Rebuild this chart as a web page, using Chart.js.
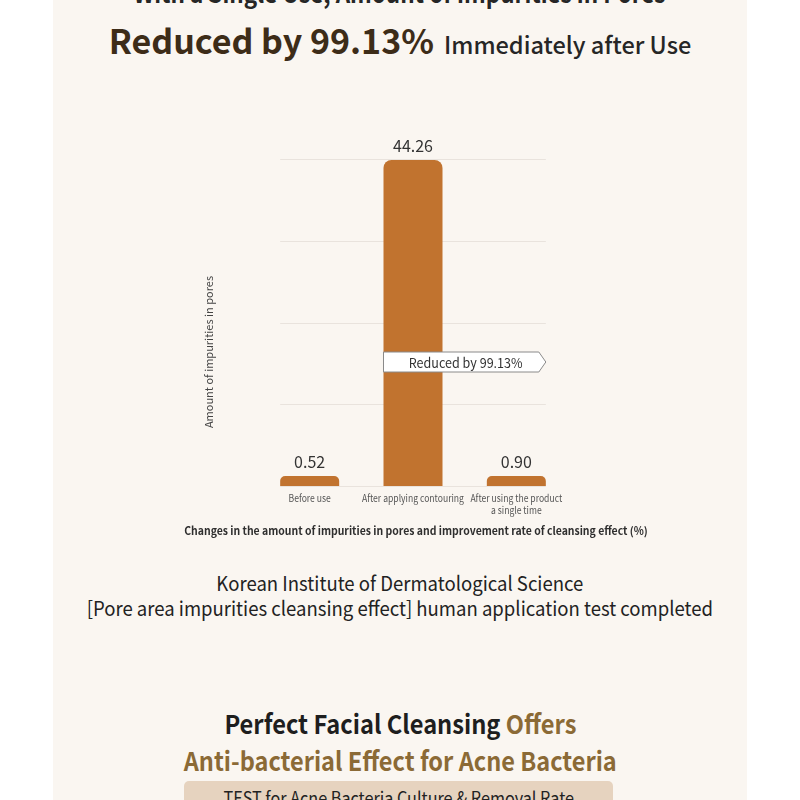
<!DOCTYPE html>
<html>
<head>
<meta charset="utf-8">
<script src="https://cdn.jsdelivr.net/npm/chart.js@4"></script>
<style>
  html, body { margin: 0; padding: 0; background: #ffffff; }
  body { width: 800px; height: 800px; position: relative; overflow: hidden; font-family: "Noto Sans CJK KR", "Noto Sans", sans-serif; }
  .panel { position: absolute; left: 53px; top: 0; width: 694px; height: 800px; background: #faf6f1; }
  .line { position: absolute; left: 0; width: 800px; text-align: center; white-space: nowrap; }
  .line > span.sq { display: inline-block; transform-origin: 50% 50%; }
  #chartBox { position: absolute; left: 150px; top: 120px; width: 520px; height: 430px; }
</style>
</head>
<body>
<div class="panel"></div>

<div class="line" style="top:-23px; font-size:25px; line-height:30px; font-weight:700; color:#262626;"><span class="sq" style="transform:scaleX(0.9);">With a Single Use, Amount of Impurities in Pores</span></div>
<div class="line" style="top:17px; line-height:46px; color:#3d2c18;"><span style="font-size:34px; font-weight:700;">Reduced by 99.13%</span><span style="font-size:23.5px; font-weight:500; color:#262626; margin-left:10px;">Immediately after Use</span></div>

<div id="chartBox"><canvas id="summaryChart" width="520" height="430"></canvas></div>

<div class="line" style="top:570px; font-size:20px; line-height:25px; color:#222;"><span class="sq" style="transform:scaleX(0.927);">Korean Institute of Dermatological Science<br>[Pore area impurities cleansing effect] human application test completed</span></div>

<div class="line" style="top:706px; font-size:26px; line-height:34px; font-weight:700; color:#1e1e1e;"><span class="sq" style="transform:scaleX(0.91);">Perfect Facial Cleansing <span style="color:#8b6a36;">Offers</span></span></div>
<div class="line" style="top:743px; font-size:26px; line-height:34px; font-weight:700; color:#8b6a36;"><span class="sq" style="transform:scaleX(0.905);">Anti-bacterial Effect for Acne Bacteria</span></div>
<div style="position:absolute; left:184px; top:781px; width:429px; height:40px; background:#e6d3bf; border-radius:5px; text-align:center; font-size:18px; line-height:32px; color:#222; white-space:nowrap;"><span style="display:inline-block; transform:scaleX(0.9);">TEST for Acne Bacteria Culture &amp; Removal Rate</span></div>

<script>
// chart data
const categories = ['Before use', 'After applying contouring', ['After using the product', 'a single time']];
const impurityValues = [0.52, 44.26, 0.90];
const valueLabels = ['0.52', '44.26', '0.90'];
const reductionText = 'Reduced by 99.13%';
const yAxisTitle = 'Amount of impurities in pores';
const xAxisTitle = 'Changes in the amount of impurities in pores and improvement rate of cleansing effect (%)';

const barColor = '#c1732f';
const gridColor = '#e9e3dd';
const fontFamily = '"Noto Sans CJK KR", "Noto Sans", sans-serif';

// draw text squeezed horizontally like the reference lettering
function squeezedText(ctx, text, x, y, sx) {
    ctx.save();
    ctx.translate(x, y);
    ctx.scale(sx, 1);
    ctx.fillText(text, 0, 0);
    ctx.restore();
}

const decorPlugin = {
    id: 'decor',
    beforeDatasetsDraw(chart) {
        const ctx = chart.ctx;
        const bars = chart.getDatasetMeta(0).data;
        const x1 = bars[0].x - bars[0].width / 2;
        const x2 = bars[bars.length - 1].x + bars[bars.length - 1].width / 2;
        ctx.save();
        ctx.strokeStyle = gridColor;
        ctx.lineWidth = 1;
        chart.scales.y.ticks.forEach(t => {
            const y = Math.round(chart.scales.y.getPixelForValue(t.value)) + 0.5;
            ctx.beginPath();
            ctx.moveTo(x1, y);
            ctx.lineTo(x2, y);
            ctx.stroke();
        });
        ctx.restore();
    },
    afterDatasetsDraw(chart) {
        const ctx = chart.ctx;
        const bars = chart.getDatasetMeta(0).data;
        const area = chart.chartArea;
        const xScale = chart.scales.x;
        ctx.save();
        ctx.textAlign = 'center';
        ctx.textBaseline = 'middle';

        // value labels
        ctx.fillStyle = '#333';
        ctx.font = '16px ' + fontFamily;
        bars.forEach((bar, i) => {
            ctx.fillText(valueLabels[i], bar.x, bar.y - 14);
        });

        // category labels
        ctx.fillStyle = '#555';
        ctx.font = '10px ' + fontFamily;
        categories.forEach((lab, i) => {
            const lines = Array.isArray(lab) ? lab : [lab];
            lines.forEach((ln, j) => {
                squeezedText(ctx, ln, xScale.getPixelForTick(i), area.bottom + 12 + j * 12, 0.86);
            });
        });

        // x axis title
        ctx.fillStyle = '#2e2e2e';
        ctx.font = 'bold 11px ' + fontFamily;
        squeezedText(ctx, xAxisTitle, (area.left + area.right) / 2 + 3, area.bottom + 45, 0.95);

        // arrow-shaped note over the middle bar
        const left = bars[1].x - bars[1].width / 2;
        const tip = bars[2].x + bars[2].width / 2;
        const cy = area.bottom - 124;
        const h = 20;
        ctx.beginPath();
        ctx.moveTo(left, cy - h / 2);
        ctx.lineTo(tip - 7, cy - h / 2);
        ctx.lineTo(tip, cy);
        ctx.lineTo(tip - 7, cy + h / 2);
        ctx.lineTo(left, cy + h / 2);
        ctx.closePath();
        ctx.fillStyle = '#ffffff';
        ctx.fill();
        ctx.strokeStyle = '#8a8a8a';
        ctx.lineWidth = 1;
        ctx.stroke();
        ctx.fillStyle = '#333';
        ctx.font = '13.5px ' + fontFamily;
        squeezedText(ctx, reductionText, (left + tip) / 2 + 1, cy + 1, 0.93);

        // y axis title
        ctx.translate(59, 232);
        ctx.rotate(-Math.PI / 2);
        ctx.fillStyle = '#444';
        ctx.font = '11px ' + fontFamily;
        ctx.fillText(yAxisTitle, 0, 0);
        ctx.restore();
    }
};

const ctx = document.getElementById('summaryChart').getContext('2d');
const summaryChart = new Chart(ctx, {
    type: 'bar',
    data: {
        labels: categories,
        datasets: [{
            data: impurityValues,
            backgroundColor: barColor,
            borderRadius: 8,
            borderSkipped: 'start',
            barPercentage: 0.571,
            categoryPercentage: 1,
            minBarLength: 10,
        }],
    },
    options: {
        responsive: false,
        animation: false,
        layout: { padding: { left: 108, right: 102, top: 39, bottom: 8.4 } },
        plugins: {
            legend: { display: false },
            tooltip: { enabled: false },
        },
        scales: {
            y: {
                display: false,
                min: 0,
                max: 44.4,
                ticks: { count: 5 },
            },
            x: {
                grid: { display: false },
                border: { display: false },
                ticks: { display: false },
                afterFit(scale) { scale.height = 55.6; },
            },
        },
    },
    plugins: [decorPlugin],
});
</script>
</body>
</html>
